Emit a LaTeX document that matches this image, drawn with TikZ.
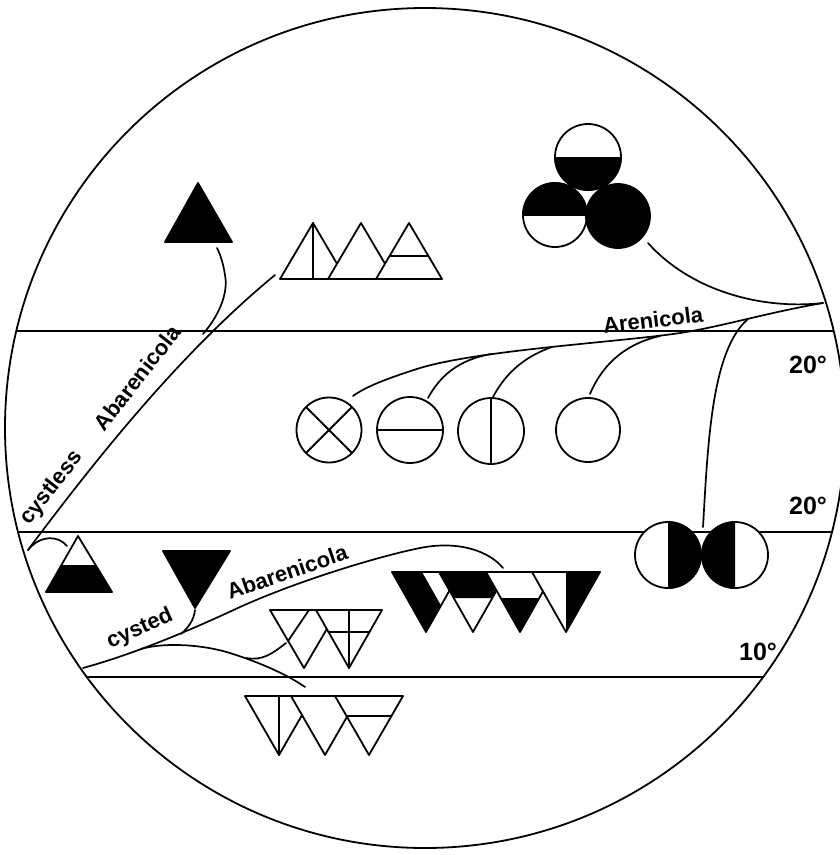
\documentclass[tikz,border=0pt]{standalone}
\usepackage{fontspec}
\setmainfont{Liberation Sans}
\usetikzlibrary{calc}
\begin{document}
\begin{tikzpicture}[x=1pt,y=-1pt,line width=1.8pt,line join=round,line cap=round,
  lbl/.style={font=\bfseries\fontsize{22}{22}\selectfont,inner sep=0pt},
  deglbl/.style={font=\bfseries\fontsize{25}{25}\selectfont,inner sep=0pt},
  wfig/.style={draw,fill=white},
  conn/.style={draw,line width=1.7pt}]
\useasboundingbox (0,0) rectangle (840,855);
\coordinate (O) at (425,428);
% ---------- horizontal temperature lines ----------
\coordinate (h1l) at (0,331);   \coordinate (h1r) at (840,331);
\coordinate (h2l) at (0,532);   \coordinate (h2r) at (840,532);
\coordinate (h3l) at (0,677);   \coordinate (h3r) at (840,677);
\begin{scope}
  \clip (O) circle[radius=420];
  \draw (h1l) -- (h1r);
  \draw (h2l) -- (h2r);
  \draw (h3l) -- (h3r);
\end{scope}
\draw (O) circle[radius=420];
% ---------- labels ----------
\node[deglbl] (d1) at (808,365) {20°};
\node[deglbl] (d2) at (808,506) {20°};
\node[deglbl] (d3) at (758,652) {10°};
\node[lbl,rotate=7] (aren) at (653,320) {Arenicola};
\node[lbl,rotate=52] (cless) at (52,488) {cystless};
\node[lbl,rotate=52] (abar1) at (137,378) {Abarenicola};
\node[lbl,rotate=19] (abar2) at (287,572) {Abarenicola};
\node[lbl,rotate=24] (csted) at (140,629) {cysted};
% ---------- cystless branch ----------
\coordinate (rootA) at (28,550);
\coordinate (topA) at (275,275);
\coordinate (mergeA) at (203,334);
\coordinate (btri) at (217,248);
\coordinate (htri) at (67,546);
\draw[conn] (rootA) .. controls (110,440) and (190,345) .. (topA);
\draw[conn] (mergeA) .. controls (222,312) and (228,290) .. (225,275) .. controls (223,262) and (220,254) .. (btri);
\draw[conn] (rootA) .. controls (40,535) and (58,535) .. (htri);
% black triangle
\filldraw (165,242) -- (198,183) -- (232,242) -- cycle;
% white triangles
\draw[wfig] (280,279) -- (313,223) -- (346,279) -- cycle;
\draw (313,223) -- (313,279);
\draw[wfig] (328,279) -- (361,223) -- (394,279) -- cycle;
\draw[wfig] (376,279) -- (409,223) -- (442,279) -- cycle;
\draw (390.5,256) -- (427.5,256);
% half black triangle
\draw (46,592) -- (78,536) -- (112,592) -- cycle;
\fill (61,565) -- (95,565) -- (112,592) -- (46,592) -- cycle;
% black inverted triangle
\filldraw (163,551) -- (230,551) -- (195,608) -- cycle;
% ---------- cysted branch ----------
\coordinate (rootB) at (83,668);
\coordinate (endB) at (503,568);
\coordinate (branchB) at (141,649);
\coordinate (splitB) at (246,658);
\coordinate (vwB) at (286,643);
\coordinate (botB) at (305,687);
\coordinate (tickB) at (181,634);
\coordinate (itri) at (195,610);
\draw[conn] (rootB) .. controls (130,655) and (180,635) .. (240,607) .. controls (300,580) and (380,556) .. (420,548) .. controls (460,540) and (490,552) .. (endB);
\draw[conn] (branchB) .. controls (160,643) and (200,643) .. (233,654) .. controls (255,661) and (285,673) .. (botB);
\draw[conn] (splitB) .. controls (262,661) and (272,654) .. (vwB);
\draw[conn] (tickB) .. controls (188,628) and (194,620) .. (itri);
% VW triangles
\draw[wfig] (270,610) -- (338,610) -- (304,668) -- cycle;
\draw (309,610) -- (288,641);
\draw[wfig] (316,610) -- (382,610) -- (349,668) -- cycle;
\draw (349,610) -- (349,668);
\draw (328.5,632) -- (369.5,632);
% bottom triangles
\draw[wfig] (245,696) -- (313,696) -- (279,755) -- cycle;
\draw (279,696) -- (279,755);
\draw[wfig] (291,696) -- (359,696) -- (325,755) -- cycle;
\draw[wfig] (335,696) -- (403,696) -- (369,755) -- cycle;
\draw (346.5,716) -- (391.5,716);
% black/white row
\draw[wfig] (392,572) -- (460,572) -- (426,632) -- cycle;
\fill (392,572) -- (422,572) -- (441,605.5) -- (426,632) -- cycle;
\draw[wfig] (439,572) -- (507,572) -- (473,632) -- cycle;
\fill (439,572) -- (507,572) -- (492.3,598) -- (453.7,598) -- cycle;
\draw[wfig] (486,572) -- (554,572) -- (520,632) -- cycle;
\fill (500.7,598) -- (539.3,598) -- (520,632) -- cycle;
\draw[wfig] (532,572) -- (600,572) -- (566,632) -- cycle;
\fill (566,572) -- (600,572) -- (566,632) -- cycle;
% ---------- Arenicola branch ----------
\coordinate (rootC) at (823,303);
\coordinate (c1top) at (353,396);
\coordinate (m2) at (491,354);
\coordinate (m3) at (552,347);
\coordinate (m4) at (660,336);
\coordinate (m5) at (748,319);
\coordinate (c2top) at (428,398);
\coordinate (c3top) at (493,397);
\coordinate (c4top) at (590,394);
\coordinate (dctop) at (703,527);
\coordinate (brc) at (648,243);
\draw[conn] (rootC) .. controls (770,312) and (720,327) .. (680,333) .. controls (620,342) and (480,350) .. (420,368) .. controls (395,376) and (368,385) .. (c1top);
\draw[conn] (brc) .. controls (690,290) and (760,310) .. (rootC);
\draw[conn] (c2top) .. controls (440,376) and (458,360) .. (m2);
\draw[conn] (c3top) .. controls (503,378) and (520,358) .. (m3);
\draw[conn] (c4top) .. controls (600,370) and (620,345) .. (m4);
\draw[conn] (dctop) .. controls (708,440) and (712,350) .. (m5);
% middle circles
\coordinate (C1) at (329,430);
\coordinate (C2) at (410,430);
\coordinate (C3) at (491,431);
\coordinate (C4) at (588,430);
\draw (C1) circle[radius=32.5];
\draw ($(C1)+(-23,-23)$) -- ($(C1)+(23,23)$);
\draw ($(C1)+(-23,23)$) -- ($(C1)+(23,-23)$);
\draw (C2) circle[radius=33];
\draw ($(C2)+(-33,0)$) -- ($(C2)+(33,0)$);
\draw (C3) circle[radius=33];
\draw ($(C3)+(0,-33)$) -- ($(C3)+(0,33)$);
\draw (C4) circle[radius=32];
% top right circles
\coordinate (TC) at (588,157);
\coordinate (BL) at (555,215);
\coordinate (BR) at (618,216);
\draw[fill=white] (TC) circle[radius=33];
\begin{scope}\clip (550,157) rectangle (626,195); \fill (TC) circle[radius=33.8];\end{scope}
\draw[fill=white] (BL) circle[radius=32];
\begin{scope}\clip (518,178) rectangle (592,215); \fill (BL) circle[radius=32.8];\end{scope}
\filldraw (BR) circle[radius=32];
% double circle
\coordinate (DL) at (668,555);
\coordinate (DR) at (735,555);
\draw[fill=white] (DL) circle[radius=33];
\begin{scope}\clip (668,518) rectangle (706,592); \fill (DL) circle[radius=33.8];\end{scope}
\draw[fill=white] (DR) circle[radius=33];
\begin{scope}\clip (697,518) rectangle (735,592); \fill (DR) circle[radius=33.8];\end{scope}
\end{tikzpicture}
\end{document}
